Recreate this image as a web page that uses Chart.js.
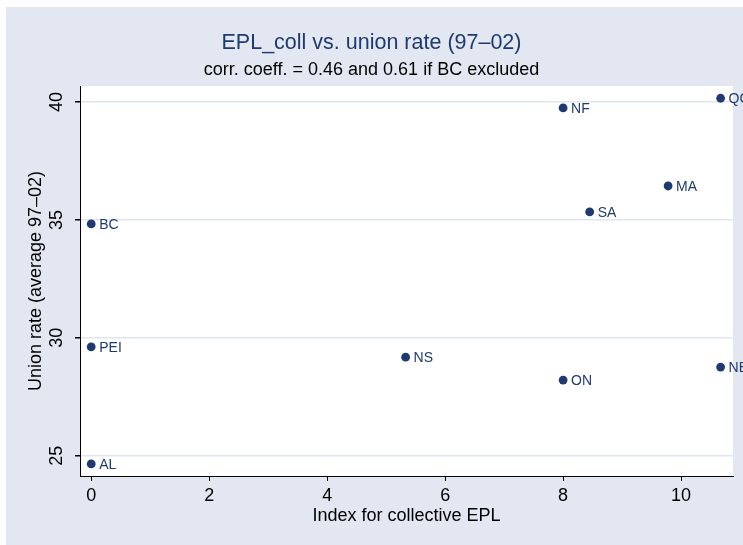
<!DOCTYPE html>
<html>
<head>
<meta charset="utf-8">
<script src="https://cdn.jsdelivr.net/npm/chart.js@4.4.0/dist/chart.umd.min.js"></script>
<style>
    html, body { margin: 0; padding: 0; background: #e2e7f1; overflow: hidden; }
    #wrap { width: 743px; height: 545px; }
    #myChart { display: block; }
</style>
</head>
<body>
<div id="wrap"><canvas id="myChart" width="743" height="545"></canvas></div>
<script>
// Province codes and their values
const provinces = ['AL', 'PEI', 'BC', 'NS', 'ON', 'NF', 'SA', 'MA', 'QC', 'NB'];
const eplColl = [0, 0, 0, 5.33, 8, 8, 8.45, 9.78, 10.67, 10.67];
const unionRate = [24.65, 29.62, 34.83, 29.18, 28.21, 39.75, 35.34, 36.44, 40.16, 28.76];

const xTicks = [0, 2, 4, 6, 8, 10];
const yTicks = [25, 30, 35, 40];

const titleText = 'EPL_coll vs. union rate (97\u201302)';
const subtitleText = 'corr. coeff. = 0.46 and 0.61 if BC excluded';
const xTitle = 'Index for collective EPL';
const yTitle = 'Union rate (average 97\u201302)';

const navy = '#1f3a6e';
const bgBlue = '#e2e7f1';
const gridBlue = '#dfe6f1';
const fontFamily = '"Liberation Sans", Arial, Helvetica, sans-serif';

// Background, titles, y tick labels (vertical), axis titles and point labels
const stataLook = {
    id: 'stataLook',
    beforeDraw(chart) {
        const { ctx, chartArea } = chart;
        ctx.save();
        ctx.fillStyle = '#ffffff';
        ctx.fillRect(0, 0, chart.width, chart.height);
        ctx.fillStyle = bgBlue;
        ctx.fillRect(6, 7, chart.width, chart.height);
        ctx.fillStyle = '#ffffff';
        ctx.fillRect(chartArea.left, chartArea.top, chartArea.right - chartArea.left, chartArea.bottom - chartArea.top);
        ctx.restore();
    },
    afterDraw(chart) {
        const { ctx, chartArea } = chart;
        const yScale = chart.scales.y;
        ctx.save();
        ctx.textAlign = 'center';
        ctx.textBaseline = 'middle';

        // title and subtitle, centred on the whole graph
        ctx.fillStyle = navy;
        ctx.font = '21.5px ' + fontFamily;
        ctx.fillText(titleText, chart.width / 2, 43);
        ctx.fillStyle = '#000000';
        ctx.font = '18px ' + fontFamily;
        ctx.fillText(subtitleText, chart.width / 2, 70);

        // y tick labels, rotated
        yTicks.forEach(v => {
            const py = yScale.getPixelForValue(v);
            ctx.save();
            ctx.translate(57, py);
            ctx.rotate(-Math.PI / 2);
            ctx.fillText(String(v), 0, 0);
            ctx.restore();
        });

        // y axis title
        ctx.save();
        ctx.translate(36, (chartArea.top + chartArea.bottom) / 2);
        ctx.rotate(-Math.PI / 2);
        ctx.fillText(yTitle, 0, 0);
        ctx.restore();

        // x axis title
        ctx.fillText(xTitle, (chartArea.left + chartArea.right) / 2, 516);

        // point labels (they run past the plot region, as in the original)
        ctx.fillStyle = navy;
        ctx.font = '14px ' + fontFamily;
        ctx.textAlign = 'left';
        const meta = chart.getDatasetMeta(0);
        meta.data.forEach((pt, i) => {
            ctx.fillText(provinces[i], pt.x + 8, pt.y + 1);
        });
        ctx.restore();
    }
};

const ctx = document.getElementById('myChart');

new Chart(ctx, {
    type: 'scatter',
    data: {
        datasets: [{
            label: 'Union rate',
            data: eplColl.map((x, i) => ({ x: x, y: unionRate[i] })),
            backgroundColor: navy,
            borderColor: navy,
            borderWidth: 0,
            pointRadius: 4.4,
            pointHoverRadius: 4.4
        }]
    },
    options: {
        responsive: false,
        animation: false,
        events: [],
        layout: {
            padding: { top: 86, left: 0, right: 10, bottom: 0 }
        },
        plugins: {
            legend: { display: false },
            tooltip: { enabled: false },
            title: { display: false },
            subtitle: { display: false }
        },
        scales: {
            x: {
                type: 'linear',
                min: -0.19,
                max: 10.88,
                afterFit: (scale) => { scale.height = 69; },
                afterBuildTicks: (scale) => { scale.ticks = xTicks.map(v => ({ value: v })); },
                border: { display: true, color: '#000000', width: 1 },
                grid: {
                    drawOnChartArea: false,
                    drawTicks: true,
                    tickLength: 5,
                    tickColor: '#000000'
                },
                ticks: {
                    color: '#000000',
                    font: { family: fontFamily, size: 18 },
                    padding: 4,
                    maxRotation: 0
                }
            },
            y: {
                type: 'linear',
                min: 24.14,
                max: 40.68,
                afterFit: (scale) => { scale.width = 80; },
                afterBuildTicks: (scale) => { scale.ticks = yTicks.map(v => ({ value: v })); },
                border: { display: true, color: '#000000', width: 1 },
                grid: {
                    color: gridBlue,
                    lineWidth: 1.5,
                    drawTicks: true,
                    tickLength: 5,
                    tickColor: '#000000'
                },
                ticks: { display: false }
            }
        }
    },
    plugins: [stataLook]
});
</script>
</body>
</html>
